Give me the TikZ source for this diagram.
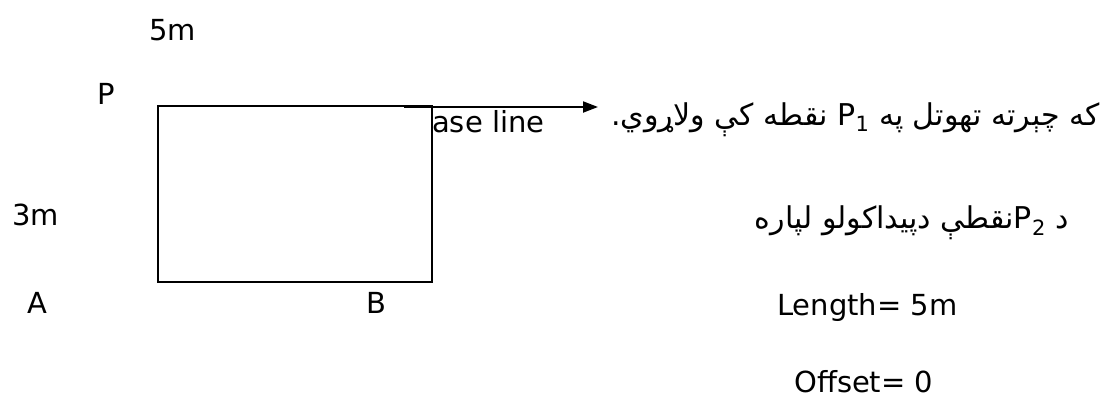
\documentclass[tikz,border=0pt]{standalone}
\usepackage{fontspec}
\setmainfont{DejaVu Sans}
\newfontfamily\arabicfont[Script=Arabic]{DejaVu Sans}
\TeXXeTstate=1
\usetikzlibrary{arrows.meta}
\begin{document}
\begin{tikzpicture}[x=1pt,y=-1pt,
  lbl/.style={inner sep=0pt,font=\fontsize{29}{33}\selectfont},
  ps/.style={inner sep=0pt,font=\arabicfont\fontsize{30}{34}\selectfont},
  edge/.style={line width=2pt}]
\useasboundingbox (0,0) rectangle (1109,399);
\node[lbl,anchor=base west] (five) at (149,40) {5m};
\node[lbl,anchor=base west] (p) at (97,104) {P};
\node[lbl,anchor=base west] (three) at (12,225) {3m};
\node[lbl,anchor=base west] (a) at (27,313) {A};
\node[lbl,anchor=base west] (b) at (366,313) {B};
\node[lbl,anchor=base west] (base) at (432,132) {ase line};
\draw[edge] (158,106) rectangle (432,282);
\coordinate (s) at (404,107);
\coordinate (t) at (598,107);
\draw[edge,-{Triangle[length=15pt,width=11pt]}] (s) -- (t);
\node[ps,anchor=base east] (l1) at (1100,125) {\beginR که چېرته تهوتل په \beginL P\textsubscript{1}\endL{} نقطه کې ولاړوي.\endR};
\node[ps,anchor=base east] (l2) at (1069,228) {\beginR د \beginL P\textsubscript{2}\endL{}نقطې دپیداکولو لپاره\endR};
\node[lbl,anchor=base west] (len) at (777,315) {Length= 5m};
\node[lbl,anchor=base west] (off) at (794,392) {Offset= 0};
\end{tikzpicture}
\end{document}
